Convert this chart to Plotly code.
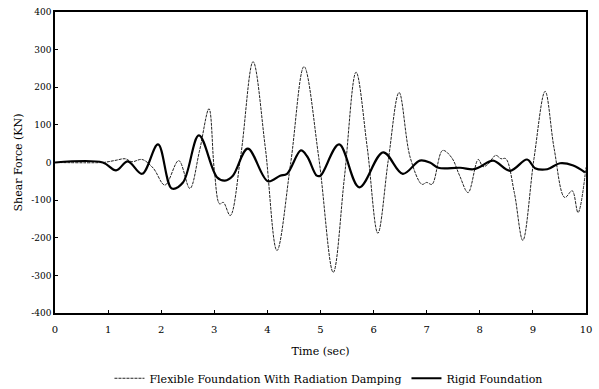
import plotly.graph_objects as go

# Flexible foundation with radiation damping (thin line)
flex_t = [0, 0.9, 1.0, 1.15, 1.32, 1.45, 1.64, 1.85, 2.07, 2.33, 2.54, 2.72, 2.9, 3.0, 3.1, 3.17, 3.3,
          3.5, 3.73, 3.96, 4.18, 4.44, 4.69, 4.97, 5.24, 5.45, 5.67, 5.88, 6.08, 6.28, 6.48, 6.69, 6.91,
          7.0, 7.1, 7.3, 7.47, 7.62, 7.78, 7.97, 8.06, 8.15, 8.3, 8.4, 8.49, 8.65, 8.81, 9.02, 9.23, 9.4,
          9.6, 9.74, 9.85, 10.0]
flex_v = [0, 0, 2, 6, 10, 2, 8, -15, -60, 5, -69, 30, 143, -20, -110, -106, -141,
          20, 268, 40, -234, 0, 255, 10, -292, -40, 240, 40, -188, 10, 186, 13, -58,
          -53, -58, 32, 13, -35, -80, 8, -11, -5, 19, 10, 10, -80, -207, 10, 189, 37,
          -93, -75, -133, -13]

# Rigid foundation (thick line)
rigid_t = [0, 0.9, 1.15, 1.37, 1.64, 1.94, 2.2, 2.41, 2.71, 3.05, 3.2, 3.35, 3.63, 4.01, 4.24,
           4.37, 4.63, 4.75, 4.93, 5.0, 5.35, 5.73, 6.18, 6.55, 6.87, 7.06, 7.22, 7.63, 7.87, 8.0,
           8.25, 8.57, 8.89, 9.04, 9.27, 9.51, 9.76, 9.98]
rigid_v = [0, 0, -21, 3, -30, 48, -69, -53, 72, -39, -48, -35, 37, -50, -35,
           -30, 32, 16, -35, -35, 48, -66, 27, -30, 5, 0, -14, -14, -18, -12,
           5, -22, 8, -15, -18, -2, -8, -26]

x_ticks = list(range(0, 11))
y_ticks = list(range(-400, 401, 100))

SERIF = "DejaVu Serif"

fig = go.Figure()
fig.add_trace(go.Scatter(
    x=flex_t, y=flex_v, mode="lines",
    line=dict(color="#222222", width=1, shape="spline", smoothing=1.0, dash="3px,1px"),
    name="Flexible Foundation With Radiation Damping"))
fig.add_trace(go.Scatter(
    x=rigid_t, y=rigid_v, mode="lines",
    line=dict(color="#000000", width=2.2, shape="spline", smoothing=1.0),
    name="Rigid Foundation"))

fig.update_layout(
    width=599, height=389,
    margin=dict(l=55, r=13, t=12, b=76, autoexpand=False),
    paper_bgcolor="white", plot_bgcolor="white",
    font=dict(family=SERIF, size=11, color="#000000"),
    showlegend=True,
    legend=dict(orientation="h", x=0.515, xanchor="center", y=-0.265, yanchor="bottom",
                font=dict(family=SERIF, size=11), itemwidth=30,
                tracegroupgap=0, bgcolor="rgba(0,0,0,0)"),
    xaxis=dict(range=[0, 10], tickvals=x_ticks, ticktext=[str(v) for v in x_ticks],
               showgrid=False, zeroline=False, showline=True, mirror=True, automargin=False,
               linecolor="black", linewidth=1.5, ticks="inside", ticklen=3,
               tickcolor="black", tickfont=dict(family=SERIF, size=10), ticklabelstandoff=6,
               title=dict(text="Time (sec)", font=dict(family=SERIF, size=11),
                          standoff=14)),
    yaxis=dict(range=[-400, 400], tickvals=y_ticks, ticktext=[str(v) for v in y_ticks],
               showgrid=False, zeroline=False, showline=True, mirror=True, automargin=False,
               linecolor="black", linewidth=1.5, ticks="inside", ticklen=3,
               tickcolor="black", tickfont=dict(family=SERIF, size=9),
               title=dict(text="Shear Force (KN)", font=dict(family=SERIF, size=11),
                          standoff=6)),
)

fig.write_html("out.html")
